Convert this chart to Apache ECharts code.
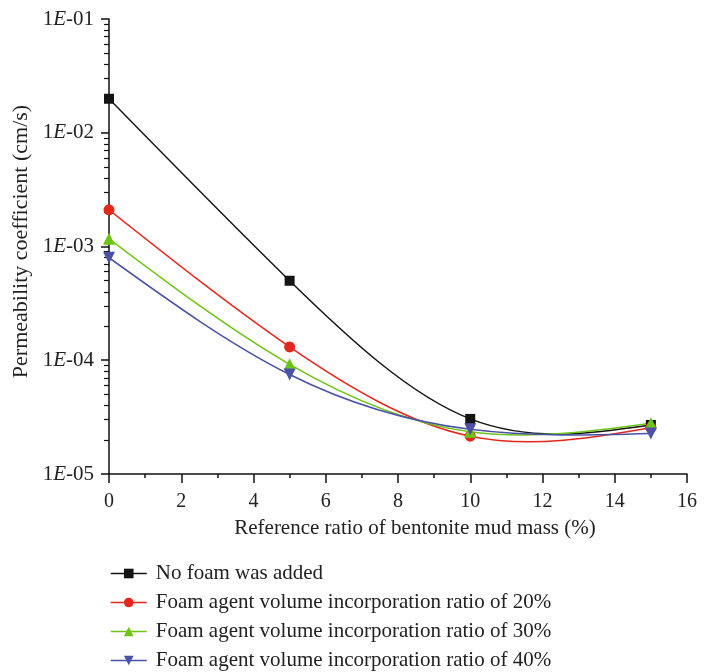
<!DOCTYPE html>
<html>
<head>
<meta charset="utf-8">
<script src="https://cdn.jsdelivr.net/npm/echarts@6/dist/echarts.min.js"></script>
<style>
  html, body { margin: 0; padding: 0; background: #fff; }
  #main { width: 714px; height: 672px; }
</style>
</head>
<body>
<div id="main"></div>
<script>
// mud ratio (%) on x, permeability coefficient (cm/s) on y
var xValues = [0, 5, 10, 15];
var noFoam = [1.99e-2, 5.0e-4, 3.05e-5, 2.7e-5];
var foam20 = [2.1e-3, 1.31e-4, 2.15e-5, 2.55e-5];
var foam30 = [1.17e-3, 9.2e-5, 2.35e-5, 2.8e-5];
var foam40 = [7.97e-4, 7.5e-5, 2.47e-5, 2.27e-5];
var seriesNames = [
  'No foam was added',
  'Foam agent volume incorporation ratio of 20%',
  'Foam agent volume incorporation ratio of 30%',
  'Foam agent volume incorporation ratio of 40%'
];
var yMinorTicks = [];
for (var e = -5; e < -1; e++) {
  for (var m = 2; m <= 9; m++) yMinorTicks.push(+(m * Math.pow(10, e)).toPrecision(3));
}

var font = '"Liberation Serif", "DejaVu Serif", serif';
var chart = echarts.init(document.getElementById('main'));

function pairs(vals) {
  return xValues.map(function (x, i) { return [x, vals[i]]; });
}
function yLabel(v) {
  var p = Math.round(-Math.log10(v));
  return '1{e|E}-' + (p < 10 ? '0' + p : p);
}

// natural cubic spline through pixel points, as bezier segments
function splineSegments(pts, color) {
  var n = pts.length, h = [], M = new Array(n).fill(0);
  for (var i = 0; i < n - 1; i++) h.push(pts[i + 1][0] - pts[i][0]);
  if (n > 2) {
    var a = [], b = [], c = [], d = [];
    for (var i = 1; i < n - 1; i++) {
      a.push(h[i - 1]); b.push(2 * (h[i - 1] + h[i])); c.push(h[i]);
      d.push(6 * ((pts[i + 1][1] - pts[i][1]) / h[i] - (pts[i][1] - pts[i - 1][1]) / h[i - 1]));
    }
    var k = d.length;
    for (var i = 1; i < k; i++) {
      var w = a[i] / b[i - 1];
      b[i] -= w * c[i - 1]; d[i] -= w * d[i - 1];
    }
    var sol = new Array(k);
    sol[k - 1] = d[k - 1] / b[k - 1];
    for (var i = k - 2; i >= 0; i--) sol[i] = (d[i] - c[i] * sol[i + 1]) / b[i];
    for (var i = 0; i < k; i++) M[i + 1] = sol[i];
  }
  var children = [];
  for (var i = 0; i < n - 1; i++) {
    var x0 = pts[i][0], y0 = pts[i][1], x1 = pts[i + 1][0], y1 = pts[i + 1][1], hh = h[i];
    var s = (y1 - y0) / hh;
    var d0 = s - hh * (2 * M[i] + M[i + 1]) / 6;
    var d1 = s + hh * (M[i] + 2 * M[i + 1]) / 6;
    children.push({
      type: 'bezierCurve',
      shape: {
        x1: x0, y1: y0, x2: x1, y2: y1,
        cpx1: x0 + hh / 3, cpy1: y0 + d0 * hh / 3,
        cpx2: x1 - hh / 3, cpy2: y1 - d1 * hh / 3
      },
      style: { stroke: color, fill: null, lineWidth: 1.5 }
    });
  }
  return children;
}

var lineStyles = [
  { color: '#141414', symbol: 'rect', size: 10, rotate: 0 },
  { color: '#e5261b', symbol: 'circle', size: 11, rotate: 0 },
  { color: '#6cc414', symbol: 'triangle', size: 12, rotate: 0 },
  { color: '#4a52a8', symbol: 'triangle', size: 12, rotate: 180 }
];
var dataSets = [noFoam, foam20, foam30, foam40];

var markerSeries = dataSets.map(function (vals, i) {
  var s = lineStyles[i];
  return {
    name: seriesNames[i],
    type: 'line',
    data: pairs(vals),
    symbol: s.symbol,
    symbolSize: s.size,
    symbolRotate: s.rotate,
    z: 10 + i,
    lineStyle: { color: s.color, width: 1.5, opacity: 0 },
    itemStyle: { color: s.color }
  };
});
var curveSeries = dataSets.map(function (vals, i) {
  var s = lineStyles[i];
  return {
    name: 'curve' + i,
    type: 'custom',
    data: pairs(vals),
    z: 2 + i,
    clip: true,
    renderItem: function (params, api) {
      if (params.dataIndex !== 0) return null;
      var pts = xValues.map(function (x, j) { return api.coord([x, vals[j]]); });
      return { type: 'group', children: splineSegments(pts, s.color) };
    }
  };
});

var option = {
  animation: false,
  textStyle: { fontFamily: font },
  grid: { left: 109, right: 27, top: 19, bottom: 198 },
  legend: {
    orient: 'vertical',
    left: 110,
    top: 563,
    padding: 0,
    itemWidth: 36,
    itemHeight: 12,
    itemGap: 8,
    lineStyle: { opacity: 1, width: 1.5 },
    textStyle: { fontFamily: font, fontSize: 21, color: '#222', padding: [0, 0, 0, 4] },
    data: seriesNames
  },
  xAxis: {
    type: 'value',
    min: 0, max: 16, interval: 2,
    name: 'Reference ratio of bentonite mud mass (%)',
    nameLocation: 'middle',
    nameGap: 44,
    nameTextStyle: { fontFamily: font, fontSize: 21, color: '#222', padding: [0, 0, 0, 34] },
    axisLine: { lineStyle: { color: '#111', width: 1.5 } },
    axisTick: { inside: false, length: 9, lineStyle: { color: '#111', width: 1.5 } },
    minorTick: { show: true, splitNumber: 2, length: 4, lineStyle: { color: '#111', width: 1.5 } },
    axisLabel: { margin: 18, fontFamily: font, fontSize: 20, color: '#222' },
    splitLine: { show: false }
  },
  yAxis: [{
    type: 'log',
    min: 1e-5, max: 1e-1, logBase: 10,
    name: 'Permeability coefficient (cm/s)',
    nameLocation: 'middle',
    nameGap: 71,
    nameTextStyle: { fontFamily: font, fontSize: 22, color: '#222', padding: [0, 0, 0, 10] },
    axisLine: { show: true, lineStyle: { color: '#111', width: 1.5 } },
    axisTick: { show: true, length: 8, lineStyle: { color: '#111', width: 1.5 } },
    axisLabel: {
      margin: 15,
      fontFamily: font, fontSize: 21, color: '#222',
      formatter: yLabel,
      rich: { e: { fontFamily: font, fontSize: 21, fontStyle: 'italic', color: '#222' } }
    },
    splitLine: { show: false }
  }, {
    // minor log ticks only
    type: 'log',
    min: 1e-5, max: 1e-1, logBase: 10,
    position: 'left',
    axisLine: { show: false },
    axisTick: { show: true, length: 5, customValues: yMinorTicks, lineStyle: { color: '#111', width: 1.2 } },
    axisLabel: { show: false },
    splitLine: { show: false }
  }],
  series: curveSeries.concat(markerSeries)
};
chart.setOption(option);
</script>
</body>
</html>
